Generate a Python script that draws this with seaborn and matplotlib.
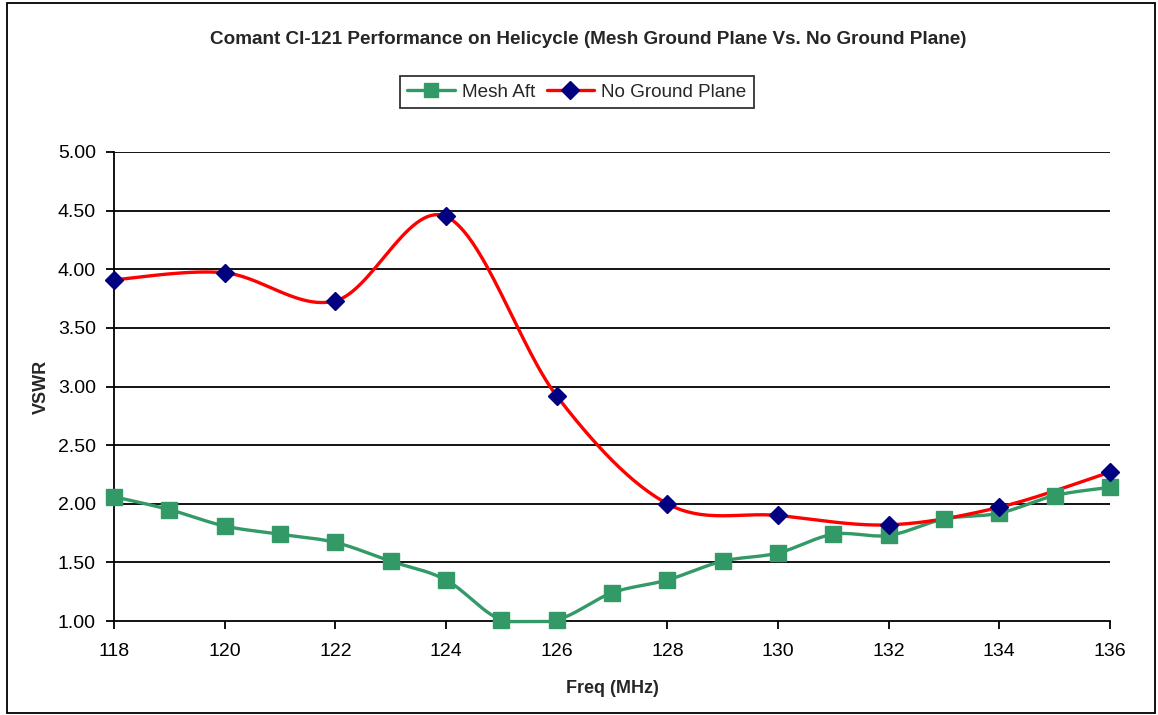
import numpy as np
import pandas as pd
import matplotlib
matplotlib.use("Agg")
import matplotlib.pyplot as plt
from matplotlib.lines import Line2D
from matplotlib.patches import Rectangle
import seaborn as sns

# ---- data ----
mesh_freq = [118, 119, 120, 121, 122, 123, 124, 125, 126, 127, 128, 129, 130, 131, 132, 133, 134, 135, 136]
mesh_vswr = [2.06, 1.95, 1.81, 1.74, 1.67, 1.51, 1.35, 1.01, 1.01, 1.24, 1.35, 1.51, 1.58, 1.74, 1.73, 1.87, 1.92, 2.07, 2.14]
nogp_freq = [118, 120, 122, 124, 126, 128, 130, 132, 134, 136]
nogp_vswr = [3.91, 3.97, 3.73, 4.45, 2.92, 2.00, 1.90, 1.82, 1.97, 2.27]
y_ticks = [1.00, 1.50, 2.00, 2.50, 3.00, 3.50, 4.00, 4.50, 5.00]
x_ticks = [118, 120, 122, 124, 126, 128, 130, 132, 134, 136]
title = "Comant CI-121 Performance on Helicycle (Mesh Ground Plane Vs. No Ground Plane)"
series_names = ["Mesh Aft", "No Ground Plane"]

GREEN = "#339966"
RED = "#FF0000"
NAVY = "#000080"


def smooth(xs, ys, n=30):
    """Catmull-Rom style smoothing (like Excel's smoothed line) through the data points."""
    xs = np.asarray(xs, float)
    ys = np.asarray(ys, float)
    px = np.concatenate([[xs[0]], xs, [xs[-1]]])
    py = np.concatenate([[ys[0]], ys, [ys[-1]]])
    outx, outy = [], []
    t = np.linspace(0, 1, n, endpoint=False)
    for i in range(1, len(px) - 2):
        p0x, p1x, p2x, p3x = px[i - 1], px[i], px[i + 1], px[i + 2]
        p0y, p1y, p2y, p3y = py[i - 1], py[i], py[i + 1], py[i + 2]
        c1x, c1y = p1x + (p2x - p0x) / 6, p1y + (p2y - p0y) / 6
        c2x, c2y = p2x - (p3x - p1x) / 6, p2y - (p3y - p1y) / 6
        bx = (1 - t) ** 3 * p1x + 3 * (1 - t) ** 2 * t * c1x + 3 * (1 - t) * t ** 2 * c2x + t ** 3 * p2x
        by = (1 - t) ** 3 * p1y + 3 * (1 - t) ** 2 * t * c1y + 3 * (1 - t) * t ** 2 * c2y + t ** 3 * p2y
        outx.extend(bx)
        outy.extend(by)
    outx.append(xs[-1])
    outy.append(ys[-1])
    return np.array(outx), np.array(outy)


sns.set_style("white")
plt.rcParams["font.family"] = ["Liberation Sans", "DejaVu Sans"]

fig = plt.figure(figsize=(11.58, 7.15), dpi=100)
ax = fig.add_axes([114 / 1158, 1 - 621 / 715, (1110 - 114) / 1158, (621 - 152) / 715])

# grid lines
for yv in y_ticks[1:]:
    ax.axhline(yv, color="black", lw=1.3, zorder=1)

mx, my = smooth(mesh_freq, mesh_vswr)
my = np.maximum(my, 0.995)  # keep the smoothed line from dipping below the axis floor
rx, ry = smooth(nogp_freq, nogp_vswr)
df_mesh = pd.DataFrame({"freq": mx, "vswr": my})
df_nogp = pd.DataFrame({"freq": rx, "vswr": ry})

sns.lineplot(data=df_mesh, x="freq", y="vswr", color=GREEN, lw=2.4, sort=False, ax=ax, zorder=3, clip_on=False)
sns.lineplot(data=df_nogp, x="freq", y="vswr", color=RED, lw=2.4, sort=False, ax=ax, zorder=4, clip_on=False)
ax.plot(mesh_freq, mesh_vswr, ls="none", marker="s", ms=11, color=GREEN, zorder=5, clip_on=False)
ax.plot(nogp_freq, nogp_vswr, ls="none", marker="D", ms=9, color=NAVY, zorder=6, clip_on=False)

ax.set_xlim(118, 136)
ax.set_ylim(1.0, 5.0)
ax.set_xticks(x_ticks)
ax.set_xticklabels([str(v) for v in x_ticks])
ax.set_yticks(y_ticks)
ax.set_yticklabels([f"{v:.2f}" for v in y_ticks])
ax.tick_params(axis="both", direction="out", length=6, width=1.3, color="black",
               labelsize=14, labelcolor="black", pad=7)
ax.tick_params(axis="y", left=True, pad=7)
ax.tick_params(axis="x", bottom=True, pad=10)
for s in ["top", "right"]:
    ax.spines[s].set_visible(False)
for s in ["left", "bottom"]:
    ax.spines[s].set_color("black")
    ax.spines[s].set_linewidth(1.3)
ax.set_xlabel("Freq (MHz)", fontsize=13, fontweight="bold", labelpad=14)
ax.set_ylabel("VSWR", fontsize=13, fontweight="bold", labelpad=6)

fig.text(588 / 1158, 1 - 39 / 715, title, ha="center", va="center", fontsize=13.6, fontweight="bold")

handles = [
    Line2D([], [], color=GREEN, lw=2.4, marker="s", ms=10, markerfacecolor=GREEN, markeredgecolor=GREEN),
    Line2D([], [], color=RED, lw=2.4, marker="D", ms=9, markerfacecolor=NAVY, markeredgecolor=NAVY),
]
leg = fig.legend(handles, series_names, loc="center", bbox_to_anchor=(577 / 1158, 1 - 92 / 715),
                 ncol=2, fontsize=13.6, frameon=True, fancybox=False, edgecolor="black",
                 handlelength=2.5, columnspacing=0.6, handletextpad=0.4, borderpad=0.4)
leg.get_frame().set_linewidth(1.3)

fig.patches.append(Rectangle((7 / 1158, 2 / 715), 1148 / 1158, 710 / 715, transform=fig.transFigure,
                             fill=False, edgecolor="black", lw=1.3))

fig.savefig("out.png", dpi=100)
